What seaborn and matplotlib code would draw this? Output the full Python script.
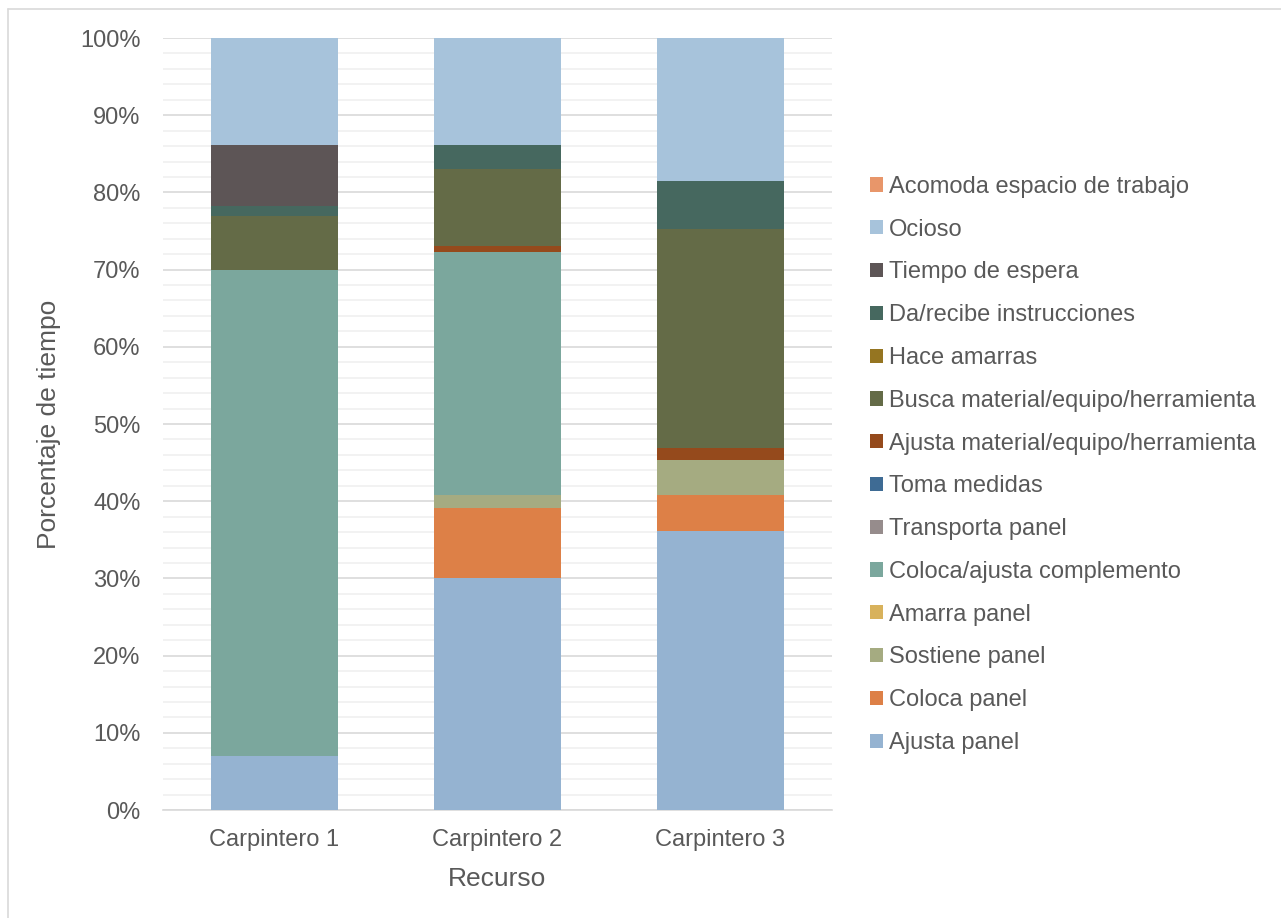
import matplotlib
matplotlib.use("Agg")
import matplotlib.pyplot as plt
from matplotlib.patches import Patch
from matplotlib.lines import Line2D
from matplotlib.ticker import MultipleLocator, PercentFormatter
import numpy as np
import pandas as pd
import seaborn as sns

# Resources on the x axis
recursos = ["Carpintero 1", "Carpintero 2", "Carpintero 3"]

# Activities, listed from the bottom of each stack upwards
actividades = [
    "Ajusta panel",
    "Coloca panel",
    "Sostiene panel",
    "Amarra panel",
    "Coloca/ajusta complemento",
    "Transporta panel",
    "Toma medidas",
    "Ajusta material/equipo/herramienta",
    "Busca material/equipo/herramienta",
    "Hace amarras",
    "Da/recibe instrucciones",
    "Tiempo de espera",
    "Ocioso",
    "Acomoda espacio de trabajo",
]

# Share of time (%) per activity, one value per carpenter
ajusta_panel = [7.0, 30.0, 36.1]
coloca_panel = [0.0, 9.1, 4.7]
sostiene_panel = [0.0, 1.7, 4.6]
amarra_panel = [0.0, 0.0, 0.0]
coloca_complemento = [63.0, 31.5, 0.0]
transporta_panel = [0.0, 0.0, 0.0]
toma_medidas = [0.0, 0.0, 0.0]
ajusta_material = [0.0, 0.7, 1.5]
busca_material = [6.9, 10.0, 28.4]
hace_amarras = [0.0, 0.0, 0.0]
da_recibe = [1.4, 3.1, 6.2]
tiempo_espera = [7.8, 0.0, 0.0]
ocioso = [13.9, 13.9, 18.5]
acomoda_espacio = [0.0, 0.0, 0.0]

valores = [
    ajusta_panel, coloca_panel, sostiene_panel, amarra_panel,
    coloca_complemento, transporta_panel, toma_medidas, ajusta_material,
    busca_material, hace_amarras, da_recibe, tiempo_espera, ocioso,
    acomoda_espacio,
]

colores = [
    "#95B3D1", "#DD8047", "#A5AB81", "#D8B25C",
    "#7BA79D", "#968C8C", "#3E6B94", "#954A1C",
    "#646B47", "#957521", "#46685F", "#5D5556", "#A7C3DB",
    "#E8966A",
]

sns.set_theme(style="white")
plt.rcParams["font.family"] = ["Liberation Sans", "DejaVu Sans"]
texto = "#595959"

fig = plt.figure(figsize=(12.81, 9.18), dpi=100)
ax = fig.add_axes([0.1272, 0.1176, 0.5223, 0.8410])

base = np.zeros(len(recursos))
for nombre, vals, color in zip(actividades, valores, colores):
    df = pd.DataFrame({"recurso": recursos, "pct": vals})
    sns.barplot(data=df, x="recurso", y="pct", order=recursos, color=color,
                saturation=1, width=0.57, bottom=base.copy(), ax=ax,
                linewidth=0, errorbar=None, zorder=3)
    base += np.array(vals)

ax.set_xlim(-0.5, 2.5)
ax.set_ylim(0, 100)
ax.yaxis.set_major_locator(MultipleLocator(10))
ax.yaxis.set_minor_locator(MultipleLocator(2))
ax.yaxis.set_major_formatter(PercentFormatter(decimals=0))
ax.grid(axis="y", which="major", color="#D9D9D9", linewidth=1.2, zorder=0)
ax.grid(axis="y", which="minor", color="#F0F0F0", linewidth=1.2, zorder=0)
ax.set_axisbelow(True)
for s in ["top", "right", "left"]:
    ax.spines[s].set_visible(False)
ax.spines["bottom"].set_color("#D9D9D9")
ax.spines["bottom"].set_linewidth(1.2)
ax.tick_params(axis="both", which="both", length=0, labelsize=17,
               labelcolor=texto)
ax.tick_params(axis="y", pad=16)
ax.tick_params(axis="x", pad=14)

ax.set_xlabel("Recurso", fontsize=19, color=texto, labelpad=11)
ax.set_ylabel("Porcentaje de tiempo", fontsize=19, color=texto, labelpad=14)

handles = [Patch(facecolor=c, edgecolor="none") for c in colores]
ax.legend(handles[::-1], actividades[::-1], loc="center left",
          bbox_to_anchor=(0.672, 0.4935), bbox_transform=fig.transFigure,
          frameon=False, fontsize=17, labelcolor=texto,
          handlelength=0.55, handleheight=0.55, handletextpad=0.25,
          labelspacing=0.88, borderaxespad=0)

# Chart area border
fig.add_artist(Line2D([8 / 1281, 8 / 1281], [0, 1 - 9 / 918],
                      transform=fig.transFigure, color="#D9D9D9", lw=1.2))
fig.add_artist(Line2D([8 / 1281, 1], [1 - 9 / 918, 1 - 9 / 918],
                      transform=fig.transFigure, color="#D9D9D9", lw=1.2))

fig.savefig("out.png", dpi=100, facecolor="white")
